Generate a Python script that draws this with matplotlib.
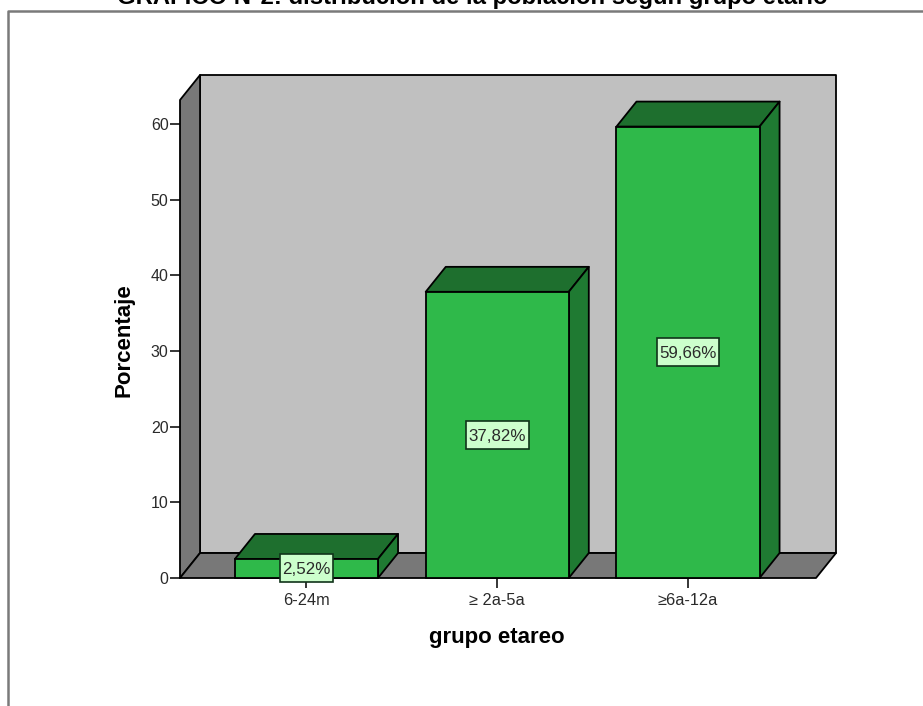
"""
grupo_etareo.py

Bar chart with a 3D-style box look: percentage of the population by age group.
"""

import matplotlib
matplotlib.use("Agg")
import matplotlib.pyplot as plt
from matplotlib.lines import Line2D
from matplotlib.patches import Polygon, Rectangle

plt.rcParams["font.family"] = ["Liberation Sans", "DejaVu Sans"]

# =============================================================================
# Data
# =============================================================================

grupos = ["6-24m", "≥ 2a-5a", "≥6a-12a"]
porcentajes = [2.52, 37.82, 59.66]
etiquetas = ["2,52%", "37,82%", "59,66%"]
marcas_y = [0, 10, 20, 30, 40, 50, 60]

# =============================================================================
# Style
# =============================================================================

VERDE = "#2fb94a"
VERDE_TAPA = "#1e6f2e"
VERDE_LADO = "#1f7a32"
GRIS_FONDO = "#c0c0c0"
GRIS_PISO = "#787878"
VERDE_ETIQUETA = "#ccffcc"
GRIS_TEXTO = "#2a2a2a"
LW = 1.3

ANCHO = 0.75      # bar width, category units
PROF_X = 0.105    # depth offset, category units
PROF_Y = 3.3      # depth offset, percentage units
X_MIN, X_MAX = -0.663, 2.671
Y_MAX = 63.17

ETIQUETA_ANCHO_CHAR = 0.055   # label box width per character, category units
ETIQUETA_ALTO = 3.7           # label box height, percentage units


def poligono(ax, puntos, color, z):
    ax.add_patch(Polygon(puntos, facecolor=color, edgecolor="black", lw=LW,
                         joinstyle="round", zorder=z, clip_on=False))


# =============================================================================
# Figure
# =============================================================================

fig = plt.figure(figsize=(9.23, 7.06), dpi=100, facecolor="white")
ax = fig.add_axes([180 / 923, 128 / 706, 636 / 923, 478 / 706])
ax.set_xlim(X_MIN, X_MAX)
ax.set_ylim(0, Y_MAX)
for spine in ax.spines.values():
    spine.set_visible(False)

# back wall, left wall and floor
poligono(ax, [(X_MIN + PROF_X, PROF_Y), (X_MAX + PROF_X, PROF_Y),
              (X_MAX + PROF_X, Y_MAX + PROF_Y), (X_MIN + PROF_X, Y_MAX + PROF_Y)], GRIS_FONDO, 1)
poligono(ax, [(X_MIN, 0), (X_MIN + PROF_X, PROF_Y), (X_MIN + PROF_X, Y_MAX + PROF_Y), (X_MIN, Y_MAX)],
         GRIS_PISO, 2)
poligono(ax, [(X_MIN, 0), (X_MAX, 0), (X_MAX + PROF_X, PROF_Y), (X_MIN + PROF_X, PROF_Y)],
         GRIS_PISO, 2)

# bars: front face from ax.bar, then top and side
posiciones = list(range(len(grupos)))
ax.bar(posiciones, porcentajes, width=ANCHO, color=VERDE, edgecolor="black", lw=LW,
       zorder=4, clip_on=False)
for x, valor, etiqueta in zip(posiciones, porcentajes, etiquetas):
    izq, der = x - ANCHO / 2, x + ANCHO / 2
    poligono(ax, [(izq, valor), (der, valor), (der + PROF_X, valor + PROF_Y), (izq + PROF_X, valor + PROF_Y)],
             VERDE_TAPA, 3)
    poligono(ax, [(der, 0), (der + PROF_X, PROF_Y), (der + PROF_X, valor + PROF_Y), (der, valor)],
             VERDE_LADO, 3)

    # value label centred on the bar
    ancho_caja = len(etiqueta) * ETIQUETA_ANCHO_CHAR
    ax.add_patch(Rectangle((x - ancho_caja / 2, valor / 2 - ETIQUETA_ALTO / 2), ancho_caja, ETIQUETA_ALTO,
                           facecolor=VERDE_ETIQUETA, edgecolor="#10331a", lw=1.2, zorder=5, clip_on=False))
    ax.text(x, valor / 2, etiqueta, ha="center", va="center_baseline", fontsize=12.2,
            color=GRIS_TEXTO, zorder=6)

# ticks
ax.set_yticks(marcas_y)
ax.set_xticks(posiciones)
ax.set_xticklabels(grupos)
ax.tick_params(axis="y", length=7.2, width=1.1, pad=1, labelsize=11.5, labelcolor=GRIS_TEXTO)
ax.tick_params(axis="x", length=7.2, width=1.1, pad=3.5, labelsize=11.8, labelcolor=GRIS_TEXTO)

# axis titles, main title and outer frame
fig.text(124 / 923, 1 - 340 / 706, "Porcentaje", rotation=90, ha="center", va="center",
         fontsize=16, fontweight="bold")
fig.text(497 / 923, 1 - 637 / 706, "grupo etareo", ha="center", va="center",
         fontsize=16, fontweight="bold")
fig.text(472 / 923, 1 - 4 / 706, "GRÁFICO N°2: distribución de la población según grupo etario",
         ha="center", va="baseline", fontsize=17.2, fontweight="bold")
fig.add_artist(Line2D([8 / 923, 8 / 923, 1], [0, 1 - 11 / 706, 1 - 11 / 706],
                      color="#7a7a7a", lw=1.8))

fig.savefig("out.png", dpi=100)
